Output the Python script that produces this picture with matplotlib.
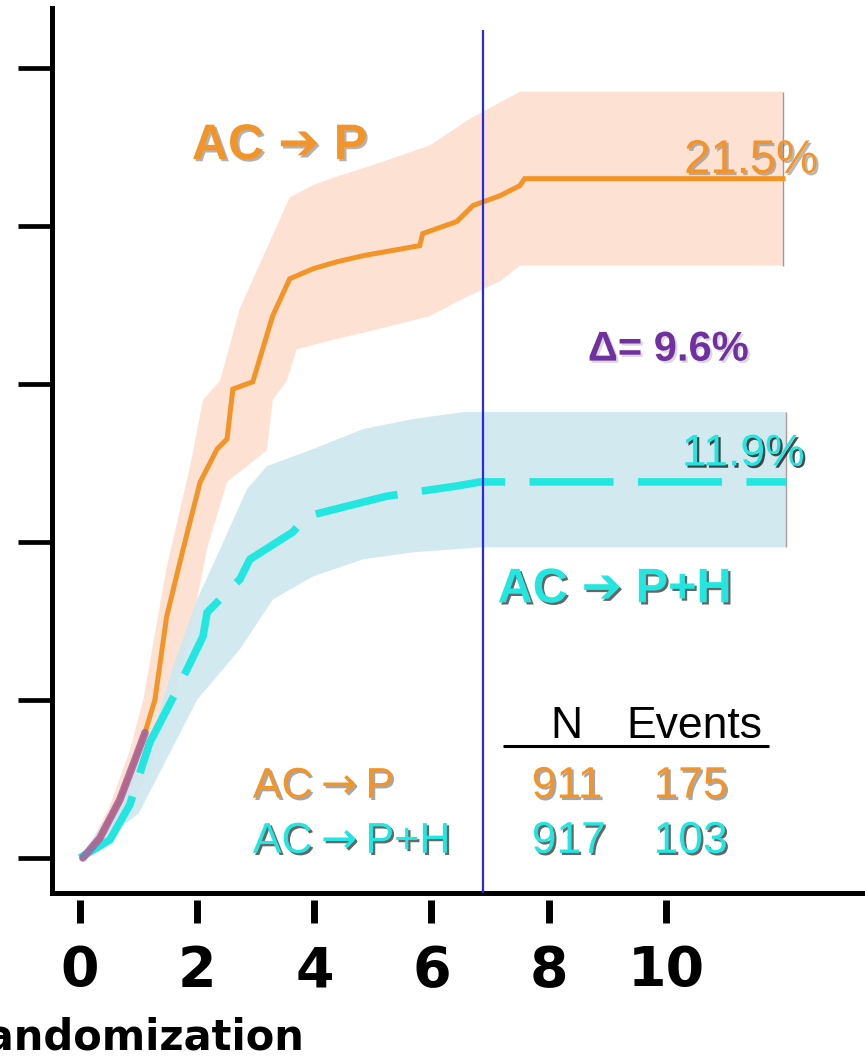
import matplotlib
matplotlib.use("Agg")
import matplotlib.pyplot as plt
import matplotlib.patheffects as pe
import numpy as np

# ── Cumulative incidence (%) vs years from randomization ──────────────────────
# AC -> P
years_p = [0.05, 0.34, 0.68, 0.94, 1.11, 1.28, 1.48, 1.76, 2.05, 2.34, 2.51, 2.61,
           2.95, 3.29, 3.58, 3.98, 4.39, 4.83, 5.80, 5.85, 6.43, 6.71, 7.17, 7.51,
           7.59, 12.0]
pct_p = [0.0, 0.63, 1.84, 3.11, 3.96, 5.01, 7.64, 9.77, 11.89, 12.94, 13.26, 14.84,
         15.07, 17.16, 18.33, 18.65, 18.87, 19.06, 19.38, 19.76, 20.14, 20.65, 20.96,
         21.28, 21.5, 21.5]
upper_x_p = [0.05, 0.5, 0.85, 1.08, 1.48, 1.88, 2.10, 2.39, 2.73, 3.19, 3.58, 3.98,
             4.44, 4.95, 5.97, 6.66, 7.51, 12.0]
upper_p = [0.0, 1.6, 3.4, 5.0, 9.2, 12.4, 14.5, 15.1, 17.4, 19.3, 20.9, 21.3,
           21.6, 21.9, 22.55, 23.4, 24.25, 24.25]
lower_x_p = [0.05, 0.7, 1.2, 1.59, 1.88, 2.17, 2.51, 3.19, 3.29, 3.53, 3.70, 4.32,
             5.12, 5.97, 6.54, 7.17, 7.51, 12.0]
lower_p = [0.0, 0.9, 2.9, 5.0, 7.1, 9.8, 11.9, 12.9, 14.5, 15.1, 16.1, 16.4,
           16.75, 17.15, 17.7, 18.25, 18.75, 18.75]

# AC -> P+H
years_ph = [0.0, 0.51, 0.85, 1.19, 1.66, 2.10, 2.17, 2.73, 2.90, 3.63, 3.87, 4.83,
            5.24, 6.43, 6.83, 12.06]
pct_ph = [0.0, 0.57, 1.68, 3.65, 5.33, 7.01, 7.77, 8.82, 9.45, 10.31, 10.81, 11.26,
          11.45, 11.77, 11.9, 11.9]
upper_x_ph = [0.0, 0.8, 1.3, 1.59, 2.00, 2.39, 2.85, 3.19, 3.98, 4.83, 5.68, 6.54, 12.06]
upper_ph = [0.0, 2.2, 4.3, 6.06, 8.18, 9.77, 11.67, 12.40, 12.94, 13.57, 13.89, 14.11, 14.11]
lower_x_ph = [0.0, 1.0, 1.5, 2.00, 2.73, 3.29, 3.98, 4.83, 5.68, 6.83, 12.06]
lower_ph = [0.0, 1.4, 3.2, 5.01, 6.60, 8.18, 8.91, 9.45, 9.67, 9.83, 9.83]

final_p, final_ph = 21.5, 11.9
delta = 9.6
arms = [r"AC$\rightarrow$P", r"AC$\rightarrow$P+H"]
n_pts = [911, 917]
n_events = [175, 103]

x_ticks = [0, 2, 4, 6, 8, 10]
y_ticks = [0, 5, 10, 15, 20, 25]
landmark_year = 6.88

ORANGE = "#f39428"
CYAN = "#22e6e0"
PURPLE = "#7030a0"
FONTS = ["Liberation Sans", "DejaVu Sans"]


def shadow(color="black", alpha=0.45):
    return [pe.withSimplePatchShadow(offset=(1.6, -1.6), shadow_rgbFace=color, alpha=alpha)]


fig = plt.figure(figsize=(8.65, 10.59), dpi=100)
ax = fig.add_axes([0.0601, 0.1568, 0.9399, 0.8356])
ax.set_xlim(-0.478, 13.40)
ax.set_ylim(-1.11, 26.9)

# confidence bands
ax.fill(np.r_[upper_x_p, lower_x_p[::-1]], np.r_[upper_p, lower_p[::-1]],
        color="#fde2d4", lw=0, zorder=1)
ax.fill(np.r_[upper_x_ph, lower_x_ph[::-1]], np.r_[upper_ph, lower_ph[::-1]],
        color="#cfe8ef", lw=0, alpha=0.95, zorder=2)
ax.vlines(upper_x_p[-1], lower_p[-1], upper_p[-1], color="#9a9aa8", lw=1, zorder=3)
ax.vlines(upper_x_ph[-1], lower_ph[-1], upper_ph[-1], color="#b09a9a", lw=1, zorder=3)

# curves
ax.plot(years_p, pct_p, color=ORANGE, lw=3.6, solid_joinstyle="miter", zorder=4)
ax.plot(years_ph, pct_ph, color=CYAN, lw=5.5, dashes=(11, 3.2), dash_capstyle="butt", zorder=5)
early = np.array(years_p) <= 1.15
ax.plot(np.array(years_p)[early], np.array(pct_p)[early], color="#a8609c", lw=5.5,
        alpha=0.85, solid_capstyle="round", zorder=6)

# landmark line
ax.vlines(landmark_year, ax.get_ylim()[0], 26.2, color="#2a2ad8", lw=1.6, zorder=7)

# axes styling
for side in ("top", "right"):
    ax.spines[side].set_visible(False)
for side in ("left", "bottom"):
    ax.spines[side].set_linewidth(3.6)
ax.set_yticks(y_ticks)
ax.set_yticklabels([])
ax.tick_params(axis="y", direction="out", length=24.5, width=3.4)
ax.set_xticks(x_ticks)
ax.set_xticklabels([str(t) for t in x_ticks], fontsize=40, fontweight="bold",
                   family="DejaVu Sans")
ax.tick_params(axis="x", length=0, pad=37)
ax.vlines(x_ticks, -0.008, -0.034, transform=ax.get_xaxis_transform(), color="black",
          lw=5, clip_on=False)
fig.text(304 / 865, 1 - 1049 / 1059, "Years from randomization", ha="right", va="baseline",
         fontsize=30, fontweight="bold", family="DejaVu Sans")

# annotations
ax.text(1.91, 22.12, "AC \u2794 P", color=ORANGE, fontsize=36, fontweight="bold",
        family=FONTS, path_effects=shadow(alpha=0.3))
ax.text(12.6, final_p + 0.18, f"{final_p}%", color=ORANGE, fontsize=34, ha="right",
        family=FONTS, path_effects=shadow("#707070", 0.5))
ax.text(8.67, 15.74, f"\u0394= {delta}%", color=PURPLE, fontsize=30, fontweight="bold",
        family=FONTS, path_effects=shadow(alpha=0.15))
ax.text(12.37, 12.42, f"{final_ph}%", color=CYAN, fontsize=32, ha="right",
        family=FONTS, path_effects=shadow(alpha=0.7))
ax.text(7.13, 8.09, "AC \u2794 P+H", color=CYAN, fontsize=35, fontweight="bold",
        family=FONTS, path_effects=shadow(alpha=0.6))

# N / events table
ax.text(8.30, 3.80, "N", fontsize=32, ha="center", family=FONTS)
ax.text(9.33, 3.80, "Events", fontsize=32, family=FONTS)
ax.plot([7.22, 11.76], [3.54, 3.54], color="black", lw=2.2, solid_capstyle="butt")
row_y = [1.90, 0.16]
for label, n, ev, col, y in zip(arms, n_pts, n_events, [ORANGE, CYAN], row_y):
    eff = shadow(alpha=0.35 if col == ORANGE else 0.6)
    ax.text(2.95, y, label, color=col, fontsize=31, family=FONTS, path_effects=eff)
    ax.text(7.71, y, str(n), color=col, fontsize=32, family=FONTS, path_effects=eff)
    ax.text(9.79, y, str(ev), color=col, fontsize=32, family=FONTS, path_effects=eff)

plt.savefig("out.png", dpi=100)
plt.close()
